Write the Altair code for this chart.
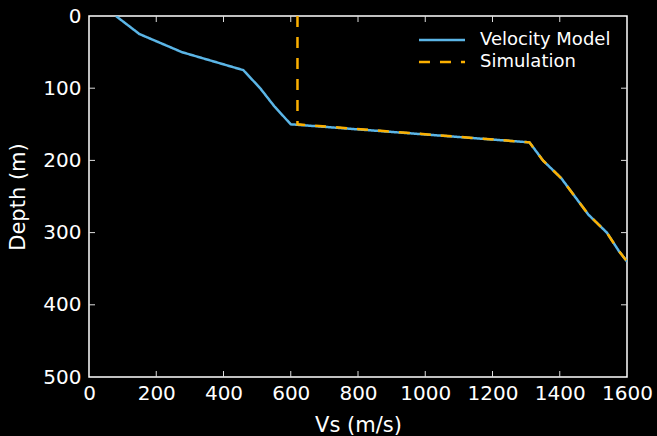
import altair as alt
import pandas as pd

# Velocity model (Vs in m/s, depth in m)
model_vs = [80, 150, 276, 459, 509, 551, 600, 1310, 1350, 1405, 1485, 1540, 1575, 1600]
model_depth = [0, 25, 50, 75, 100, 125, 150, 175, 200, 225, 275, 300, 325, 340]

# Simulation
sim_vs = [620, 620, 1310, 1350, 1405, 1485, 1540, 1575, 1600]
sim_depth = [0, 150, 175, 200, 225, 275, 300, 325, 340]

x_ticks = [0, 200, 400, 600, 800, 1000, 1200, 1400, 1600]
y_ticks = [0, 100, 200, 300, 400, 500]

series = ["Velocity Model", "Simulation"]
BLUE = "#5BB5E6"
ORANGE = "#FCB000"

W, H = 538, 361
TICK = 6

rows = []
for i, (v, d) in enumerate(zip(model_vs, model_depth)):
    rows.append({"vs": v, "depth": d, "series": series[0], "idx": i})
for i, (v, d) in enumerate(zip(sim_vs, sim_depth)):
    rows.append({"vs": v, "depth": d, "series": series[1], "idx": i})
df = pd.DataFrame(rows)

xscale = alt.Scale(domain=[0, 1600], nice=False, zero=False)
yscale = alt.Scale(domain=[0, 500], reverse=True, nice=False, zero=False)

xenc = alt.X("vs:Q", scale=xscale,
             axis=alt.Axis(values=x_ticks, title="Vs (m/s)", format="d"))
yenc = alt.Y("depth:Q", scale=yscale,
             axis=alt.Axis(values=y_ticks, title="Depth (m)", format="d"))

leg = dict(title=None, orient="none", legendX=340, legendY=11,
           symbolType="M-2,0H2", symbolSize=530,
           symbolStrokeWidth=2.5, labelFontSize=18,
           labelColor="white", labelOffset=25,
           rowPadding=0, labelFont="DejaVu Sans")

color = alt.Color("series:N",
                  scale=alt.Scale(domain=series, range=[BLUE, ORANGE]),
                  legend=alt.Legend(**leg))
dash = alt.StrokeDash("series:N",
                      scale=alt.Scale(domain=series, range=[[1, 0], [11, 10]]),
                      legend=alt.Legend(**leg))

base = alt.Chart(df)
model_line = base.transform_filter(alt.datum.series == series[0]).mark_line(
    strokeWidth=2.5, clip=True).encode(
    x=xenc, y=yenc, color=color, strokeDash=dash, order="idx:Q")
sim_line = base.transform_filter(alt.datum.series == series[1]).mark_line(
    strokeWidth=2.5, clip=True).encode(
    x=xenc, y=yenc, color=color, strokeDash=dash, order="idx:Q")

xt = alt.Chart(pd.DataFrame({"t": x_ticks[1:-1]}))
yt = alt.Chart(pd.DataFrame({"t": y_ticks[1:-1]}))
tick_col = "#dddddd"
bottom_ticks = xt.mark_rule(color=tick_col, strokeWidth=1).encode(
    x=alt.X("t:Q", scale=xscale), y=alt.value(H - TICK), y2=alt.value(H))
top_ticks = xt.mark_rule(color=tick_col, strokeWidth=1).encode(
    x=alt.X("t:Q", scale=xscale), y=alt.value(0), y2=alt.value(TICK))
left_ticks = yt.mark_rule(color=tick_col, strokeWidth=1).encode(
    y=alt.Y("t:Q", scale=yscale), x=alt.value(0), x2=alt.value(TICK))
right_ticks = yt.mark_rule(color=tick_col, strokeWidth=1).encode(
    y=alt.Y("t:Q", scale=yscale), x=alt.value(W - TICK), x2=alt.value(W))

chart = alt.layer(
    bottom_ticks, top_ticks, left_ticks, right_ticks, model_line, sim_line
).properties(
    width=W, height=H,
    background="black",
    autosize=alt.AutoSizeParams(type="none"),
    padding={"left": 89, "top": 16, "right": 30, "bottom": 59},
).configure_view(
    stroke="white", strokeWidth=1.5, fill="black"
).configure_axis(
    domain=False, ticks=False, grid=False,
    labelColor="white", titleColor="white",
    labelFont="DejaVu Sans", titleFont="DejaVu Sans",
    labelFontSize=20, titleFontSize=21, titleFontWeight="normal",
    labelPadding=8, labelOverlap=False, labelFlush=False, labelBound=False,
).configure_axisX(
    labelPadding=6, titlePadding=11,
).configure_axisY(
    titlePadding=14,
)

chart.save("out.html", embed_options={"renderer": "svg", "actions": False})
